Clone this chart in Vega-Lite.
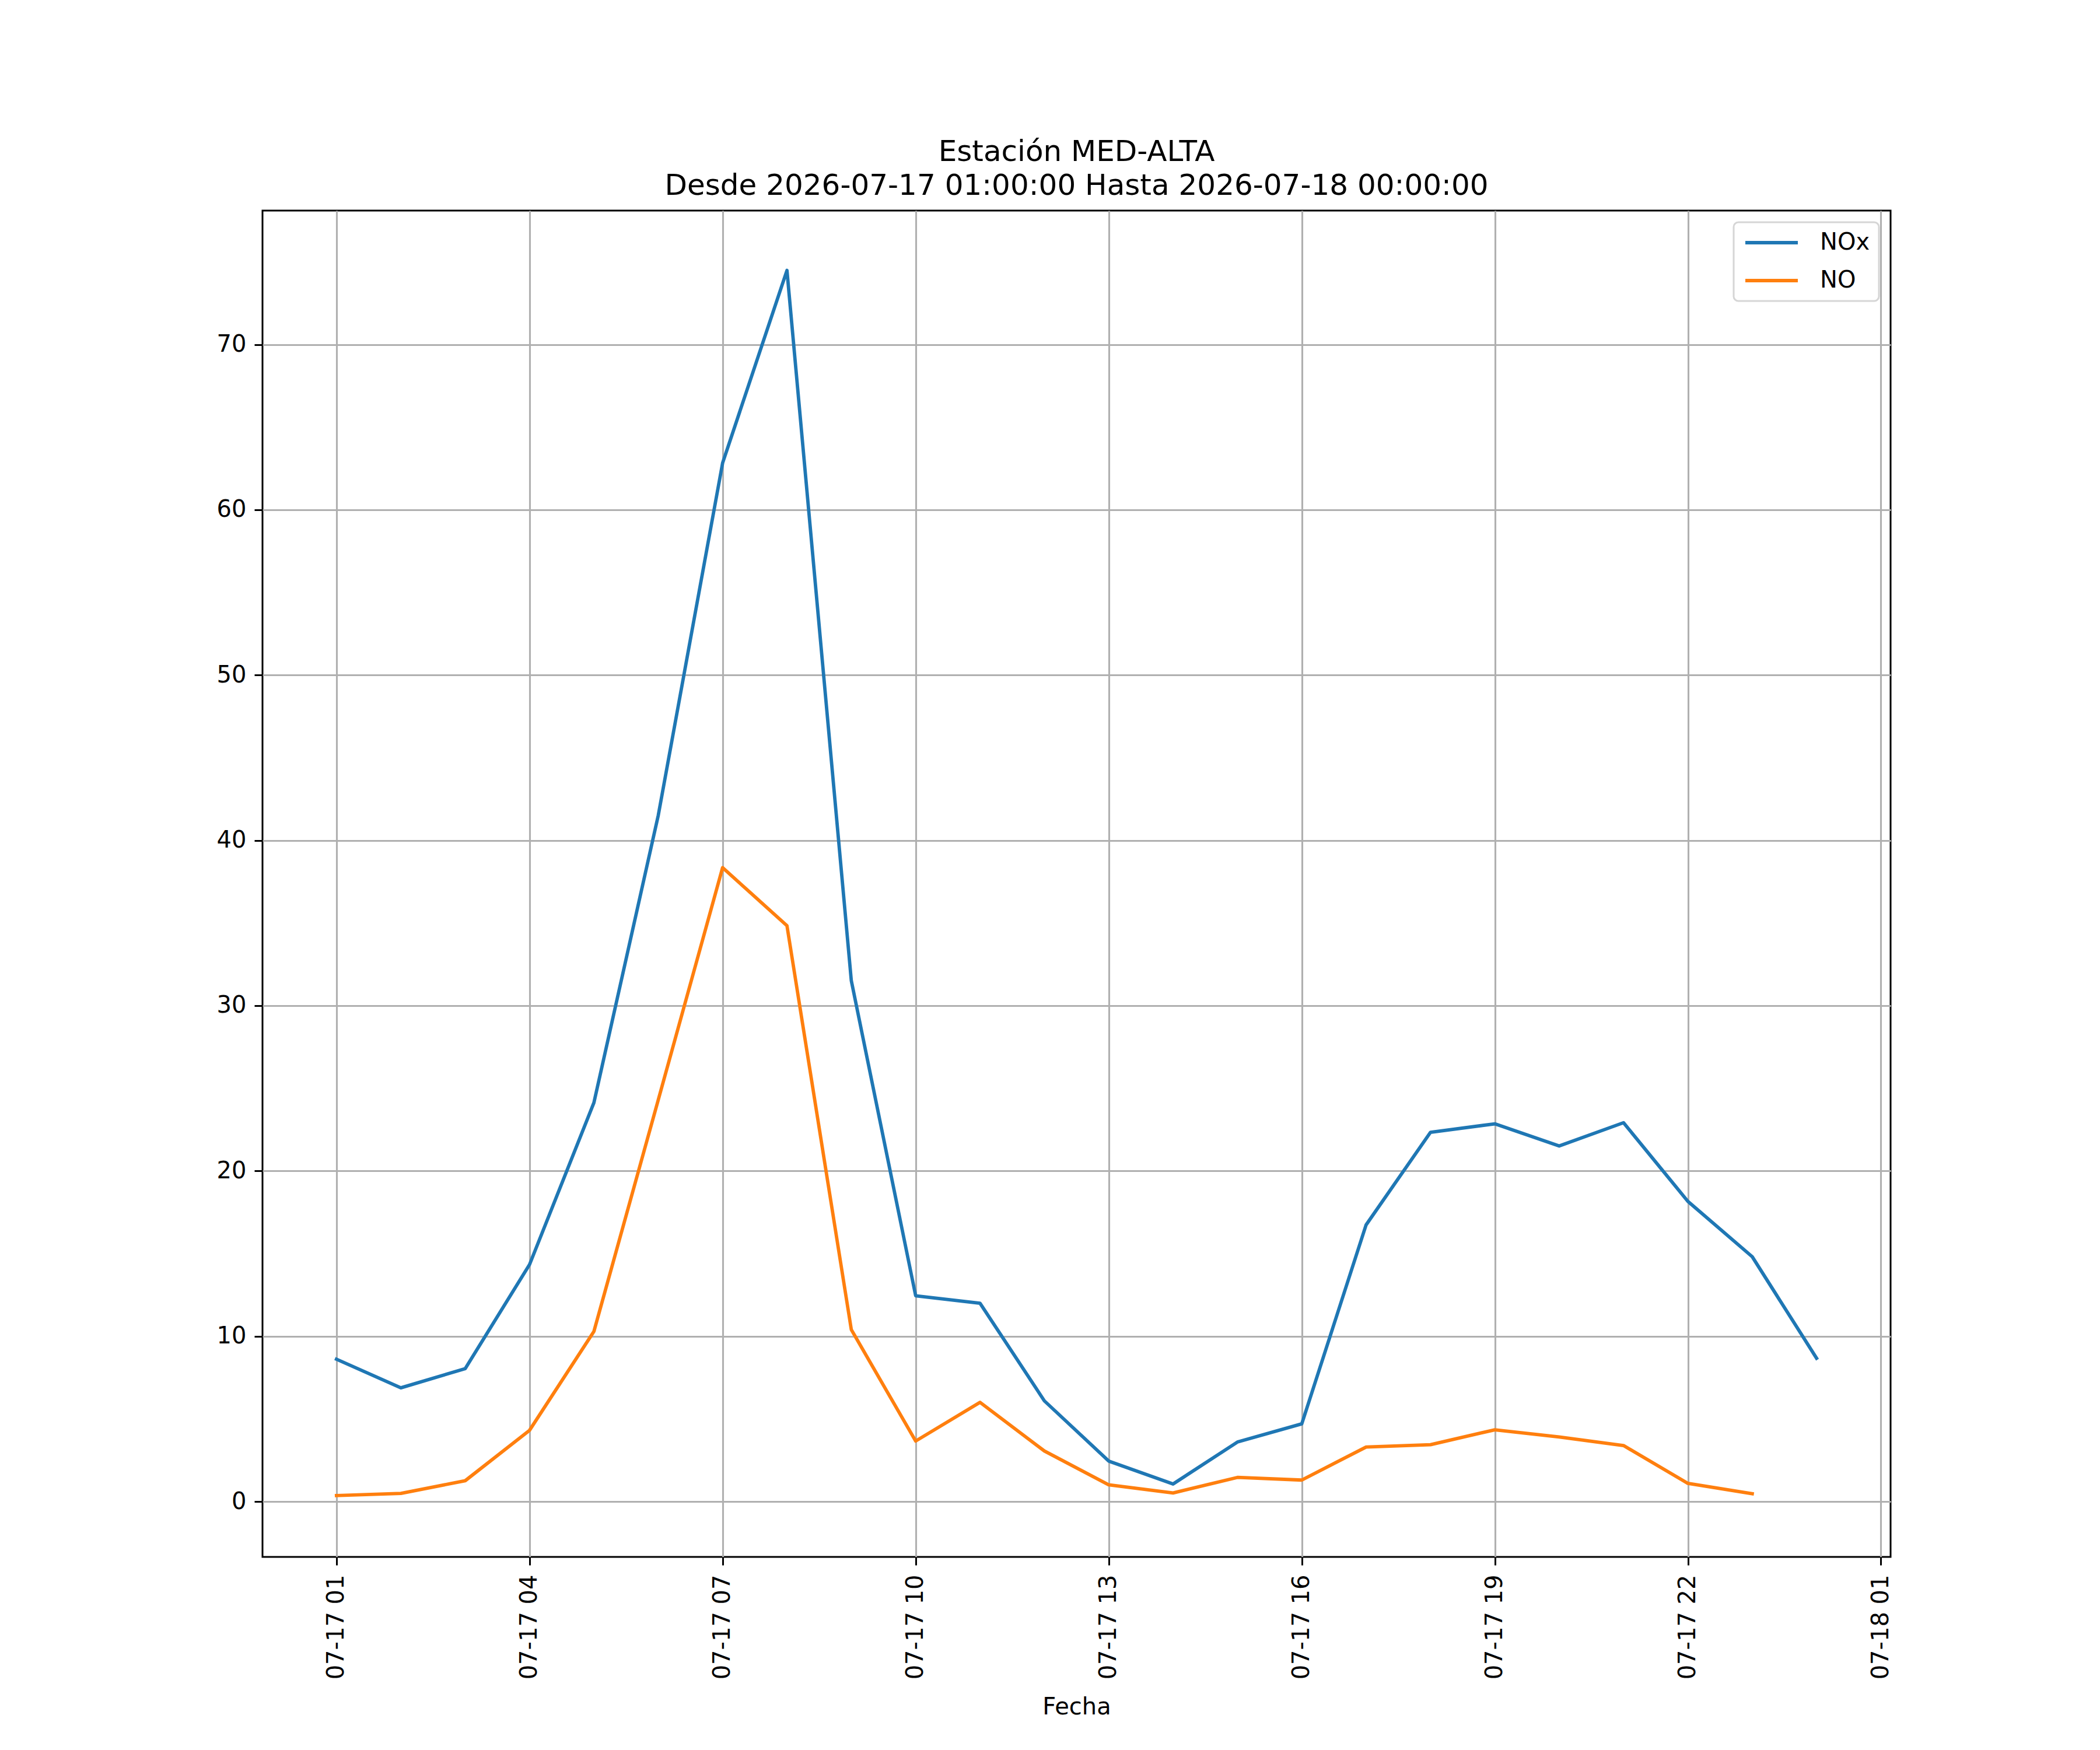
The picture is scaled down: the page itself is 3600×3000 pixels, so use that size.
{
  "$schema": "https://vega.github.io/schema/vega-lite/v6.json",
  "description": "NOx y NO, Estación MED-ALTA",
  "autosize": "none",
  "padding": {"left": 450, "top": 361, "right": 359, "bottom": 331},
  "width": 2791,
  "height": 2308,
  "background": "white",
  "title": {
    "text": ["Estación MED-ALTA", "Desde 2026-07-17 01:00:00 Hasta 2026-07-18 00:00:00"],
    "anchor": "middle",
    "frame": "group",
    "font": "DejaVu Sans",
    "fontSize": 50,
    "fontWeight": "normal",
    "color": "black",
    "lineHeight": 58,
    "offset": 17
  },
  "data": {
    "values": [
      {"fecha": "2026-07-17T01:00:00", "serie": "NOx", "valor": 8.61},
      {"fecha": "2026-07-17T02:00:00", "serie": "NOx", "valor": 6.88},
      {"fecha": "2026-07-17T03:00:00", "serie": "NOx", "valor": 8.04},
      {"fecha": "2026-07-17T04:00:00", "serie": "NOx", "valor": 14.34},
      {"fecha": "2026-07-17T05:00:00", "serie": "NOx", "valor": 24.13},
      {"fecha": "2026-07-17T06:00:00", "serie": "NOx", "valor": 41.51},
      {"fecha": "2026-07-17T07:00:00", "serie": "NOx", "valor": 62.83},
      {"fecha": "2026-07-17T08:00:00", "serie": "NOx", "valor": 74.48},
      {"fecha": "2026-07-17T09:00:00", "serie": "NOx", "valor": 31.51},
      {"fecha": "2026-07-17T10:00:00", "serie": "NOx", "valor": 12.45},
      {"fecha": "2026-07-17T11:00:00", "serie": "NOx", "valor": 12.0},
      {"fecha": "2026-07-17T12:00:00", "serie": "NOx", "valor": 6.09},
      {"fecha": "2026-07-17T13:00:00", "serie": "NOx", "valor": 2.45},
      {"fecha": "2026-07-17T14:00:00", "serie": "NOx", "valor": 1.06},
      {"fecha": "2026-07-17T15:00:00", "serie": "NOx", "valor": 3.6},
      {"fecha": "2026-07-17T16:00:00", "serie": "NOx", "valor": 4.7},
      {"fecha": "2026-07-17T17:00:00", "serie": "NOx", "valor": 16.74},
      {"fecha": "2026-07-17T18:00:00", "serie": "NOx", "valor": 22.34},
      {"fecha": "2026-07-17T19:00:00", "serie": "NOx", "valor": 22.85},
      {"fecha": "2026-07-17T20:00:00", "serie": "NOx", "valor": 21.51},
      {"fecha": "2026-07-17T21:00:00", "serie": "NOx", "valor": 22.92},
      {"fecha": "2026-07-17T22:00:00", "serie": "NOx", "valor": 18.16},
      {"fecha": "2026-07-17T23:00:00", "serie": "NOx", "valor": 14.81},
      {"fecha": "2026-07-18T00:00:00", "serie": "NOx", "valor": 8.67},
      {"fecha": "2026-07-17T01:00:00", "serie": "NO", "valor": 0.36},
      {"fecha": "2026-07-17T02:00:00", "serie": "NO", "valor": 0.49},
      {"fecha": "2026-07-17T03:00:00", "serie": "NO", "valor": 1.26},
      {"fecha": "2026-07-17T04:00:00", "serie": "NO", "valor": 4.31},
      {"fecha": "2026-07-17T05:00:00", "serie": "NO", "valor": 10.29},
      {"fecha": "2026-07-17T06:00:00", "serie": "NO", "valor": 24.3},
      {"fecha": "2026-07-17T07:00:00", "serie": "NO", "valor": 38.35},
      {"fecha": "2026-07-17T08:00:00", "serie": "NO", "valor": 34.84},
      {"fecha": "2026-07-17T09:00:00", "serie": "NO", "valor": 10.4},
      {"fecha": "2026-07-17T10:00:00", "serie": "NO", "valor": 3.66},
      {"fecha": "2026-07-17T11:00:00", "serie": "NO", "valor": 6.0},
      {"fecha": "2026-07-17T12:00:00", "serie": "NO", "valor": 3.06},
      {"fecha": "2026-07-17T13:00:00", "serie": "NO", "valor": 1.01},
      {"fecha": "2026-07-17T14:00:00", "serie": "NO", "valor": 0.52},
      {"fecha": "2026-07-17T15:00:00", "serie": "NO", "valor": 1.46},
      {"fecha": "2026-07-17T16:00:00", "serie": "NO", "valor": 1.3},
      {"fecha": "2026-07-17T17:00:00", "serie": "NO", "valor": 3.3},
      {"fecha": "2026-07-17T18:00:00", "serie": "NO", "valor": 3.44},
      {"fecha": "2026-07-17T19:00:00", "serie": "NO", "valor": 4.34},
      {"fecha": "2026-07-17T20:00:00", "serie": "NO", "valor": 3.91},
      {"fecha": "2026-07-17T21:00:00", "serie": "NO", "valor": 3.39},
      {"fecha": "2026-07-17T22:00:00", "serie": "NO", "valor": 1.1},
      {"fecha": "2026-07-17T23:00:00", "serie": "NO", "valor": 0.47}
    ]
  },
  "mark": {"type": "line", "strokeWidth": 5.8, "strokeCap": "square", "strokeJoin": "round", "clip": true},
  "encoding": {
    "x": {
      "field": "fecha",
      "type": "temporal",
      "title": "Fecha",
      "scale": {
        "domain": [
          {"year": 2026, "month": 7, "date": 16, "hours": 23, "minutes": 51},
          {"year": 2026, "month": 7, "date": 18, "hours": 1, "minutes": 9}
        ],
        "nice": false
      },
      "axis": {
        "values": [
          {"year": 2026, "month": 7, "date": 17, "hours": 1},
          {"year": 2026, "month": 7, "date": 17, "hours": 4},
          {"year": 2026, "month": 7, "date": 17, "hours": 7},
          {"year": 2026, "month": 7, "date": 17, "hours": 10},
          {"year": 2026, "month": 7, "date": 17, "hours": 13},
          {"year": 2026, "month": 7, "date": 17, "hours": 16},
          {"year": 2026, "month": 7, "date": 17, "hours": 19},
          {"year": 2026, "month": 7, "date": 17, "hours": 22},
          {"year": 2026, "month": 7, "date": 18, "hours": 1}
        ],
        "format": "%m-%d %H",
        "formatType": "time",
        "labelAngle": 270,
        "labelAlign": "right",
        "labelBaseline": "middle",
        "labelPadding": 16,
        "titlePadding": 37
      }
    },
    "y": {
      "field": "valor",
      "type": "quantitative",
      "title": null,
      "scale": {"domain": [-3.35, 78.1], "nice": false, "zero": false},
      "axis": {"values": [0, 10, 20, 30, 40, 50, 60, 70], "labelPadding": 14}
    },
    "color": {
      "field": "serie",
      "type": "nominal",
      "sort": ["NOx", "NO"],
      "scale": {"domain": ["NOx", "NO"], "range": ["#1f77b4", "#ff7f0e"]},
      "legend": {"title": null, "orient": "top-right", "offset": 20}
    }
  },
  "config": {
    "font": "DejaVu Sans",
    "view": {"stroke": "black", "strokeWidth": 3},
    "axis": {
      "domain": false,
      "grid": true,
      "gridColor": "#b0b0b0",
      "gridWidth": 3.1,
      "gridOpacity": 1,
      "ticks": true,
      "tickColor": "black",
      "tickWidth": 3,
      "tickSize": 14,
      "labelFont": "DejaVu Sans",
      "labelFontSize": 40,
      "labelColor": "black",
      "labelOverlap": false,
      "labelFlush": false,
      "titleFont": "DejaVu Sans",
      "titleFontSize": 40,
      "titleFontWeight": "normal",
      "titleColor": "black"
    },
    "legend": {
      "labelFont": "DejaVu Sans",
      "labelFontSize": 40,
      "labelColor": "black",
      "symbolType": "M-1,0H5",
      "symbolSize": 900,
      "symbolStrokeWidth": 5.8,
      "labelOffset": 93,
      "rowPadding": 25,
      "padding": 15,
      "strokeColor": "#d6d6d6",
      "strokeWidth": 3,
      "cornerRadius": 8,
      "fillColor": "white"
    }
  }
}
